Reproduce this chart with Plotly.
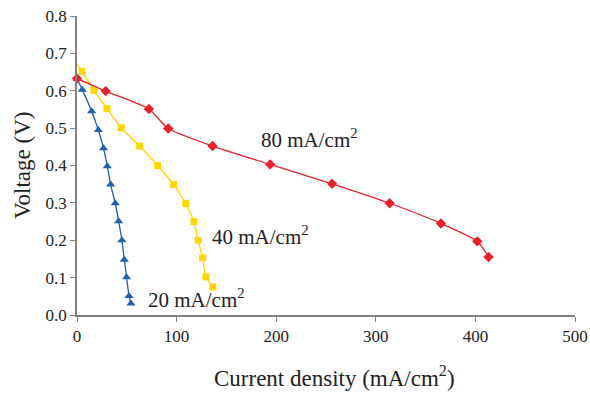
import plotly.graph_objects as go

# 20 mA/cm2 series
i20 = [0, 5.3, 14.7, 21.4, 26.7, 30.4, 33.8, 38.4, 41.8, 45.1, 47.5, 49.8, 52.2, 54.2]
v20 = [0.632, 0.603, 0.545, 0.495, 0.446, 0.398, 0.349, 0.299, 0.251, 0.200, 0.148, 0.101, 0.051, 0.031]

# 40 mA/cm2 series
i40 = [-1, 5, 17, 30.1, 44.4, 62.9, 80.9, 97, 109.3, 117.4, 121.7, 126.1, 129.4, 136.4]
v40 = [0.676, 0.652, 0.601, 0.552, 0.501, 0.452, 0.400, 0.349, 0.298, 0.250, 0.200, 0.153, 0.102, 0.075]

# 80 mA/cm2 series
i80 = [0, 28.8, 72.2, 91.6, 136.1, 193.9, 256.1, 313.9, 365.4, 401.9, 413.2]
v80 = [0.633, 0.599, 0.551, 0.499, 0.452, 0.403, 0.351, 0.299, 0.245, 0.197, 0.155]

labels = ["20 mA/cm<sup>2</sup>", "40 mA/cm<sup>2</sup>", "80 mA/cm<sup>2</sup>"]
label_x = [69.5, 133.5, 182.5]
label_y = [0.045, 0.212, 0.472]

x_ticks = [0, 100, 200, 300, 400, 500]
y_ticks = [0.0, 0.1, 0.2, 0.3, 0.4, 0.5, 0.6, 0.7, 0.8]

x_title = "Current density (mA/cm<sup>2</sup>)"
y_title = "Voltage (V)"

font_family = "Liberation Serif, Times New Roman, serif"
text_color = "#222222"

fig = go.Figure()
fig.add_trace(go.Scatter(x=i40, y=v40, mode="lines+markers", cliponaxis=False,
                         line=dict(color="#FFD700", width=1.3, shape="spline", smoothing=0.6),
                         marker=dict(symbol="square", size=7, color="#FFD700")))
fig.add_trace(go.Scatter(x=i20, y=v20, mode="lines+markers", cliponaxis=False,
                         line=dict(color="#1F5FAF", width=1.3, shape="spline", smoothing=0.6),
                         marker=dict(symbol="triangle-up", size=8, color="#1F5FAF")))
fig.add_trace(go.Scatter(x=i80, y=v80, mode="lines+markers", cliponaxis=False,
                         line=dict(color="#E8202A", width=1.3, shape="spline", smoothing=0.6),
                         marker=dict(symbol="diamond", size=8, color="#E8202A")))

for t, x, y in zip(labels, label_x, label_y):
    fig.add_annotation(x=x, y=y, text=t, showarrow=False, xanchor="left", yanchor="middle",
                       font=dict(family=font_family, size=21, color=text_color))

fig.add_annotation(x=0.518, y=-0.207, xref="paper", yref="paper", text=x_title,
                   showarrow=False, xanchor="center", yanchor="middle",
                   font=dict(family=font_family, size=23, color=text_color))
fig.add_annotation(x=-0.108, y=0.502, xref="paper", yref="paper", text=y_title,
                   showarrow=False, xanchor="center", yanchor="middle", textangle=-90,
                   font=dict(family=font_family, size=23, color=text_color))

fig.update_layout(
    width=590, height=401,
    margin=dict(l=77, r=15, t=16, b=86, autoexpand=False),
    paper_bgcolor="white", plot_bgcolor="white",
    showlegend=False, hovermode=False,
    font=dict(family=font_family, size=17, color=text_color),
)
fig.update_xaxes(range=[0, 500], tickvals=x_ticks, ticktext=[str(v) for v in x_ticks],
                 automargin=False,
                 showgrid=False, zeroline=False, showline=True, linecolor="#808080", linewidth=1.5,
                 ticks="outside", ticklen=5, tickcolor="#808080",
                 tickfont=dict(family=font_family, size=17, color=text_color))
fig.update_yaxes(range=[0, 0.8], tickvals=y_ticks, ticktext=[f"{v:.1f}" for v in y_ticks],
                 automargin=False,
                 showgrid=False, zeroline=False, showline=True, linecolor="#808080", linewidth=1.5,
                 ticks="outside", ticklen=5, tickcolor="#808080",
                 tickfont=dict(family=font_family, size=17, color=text_color))

fig.write_html("out.html", config={"displayModeBar": False},
               post_script="document.body.style.margin='0px';")
